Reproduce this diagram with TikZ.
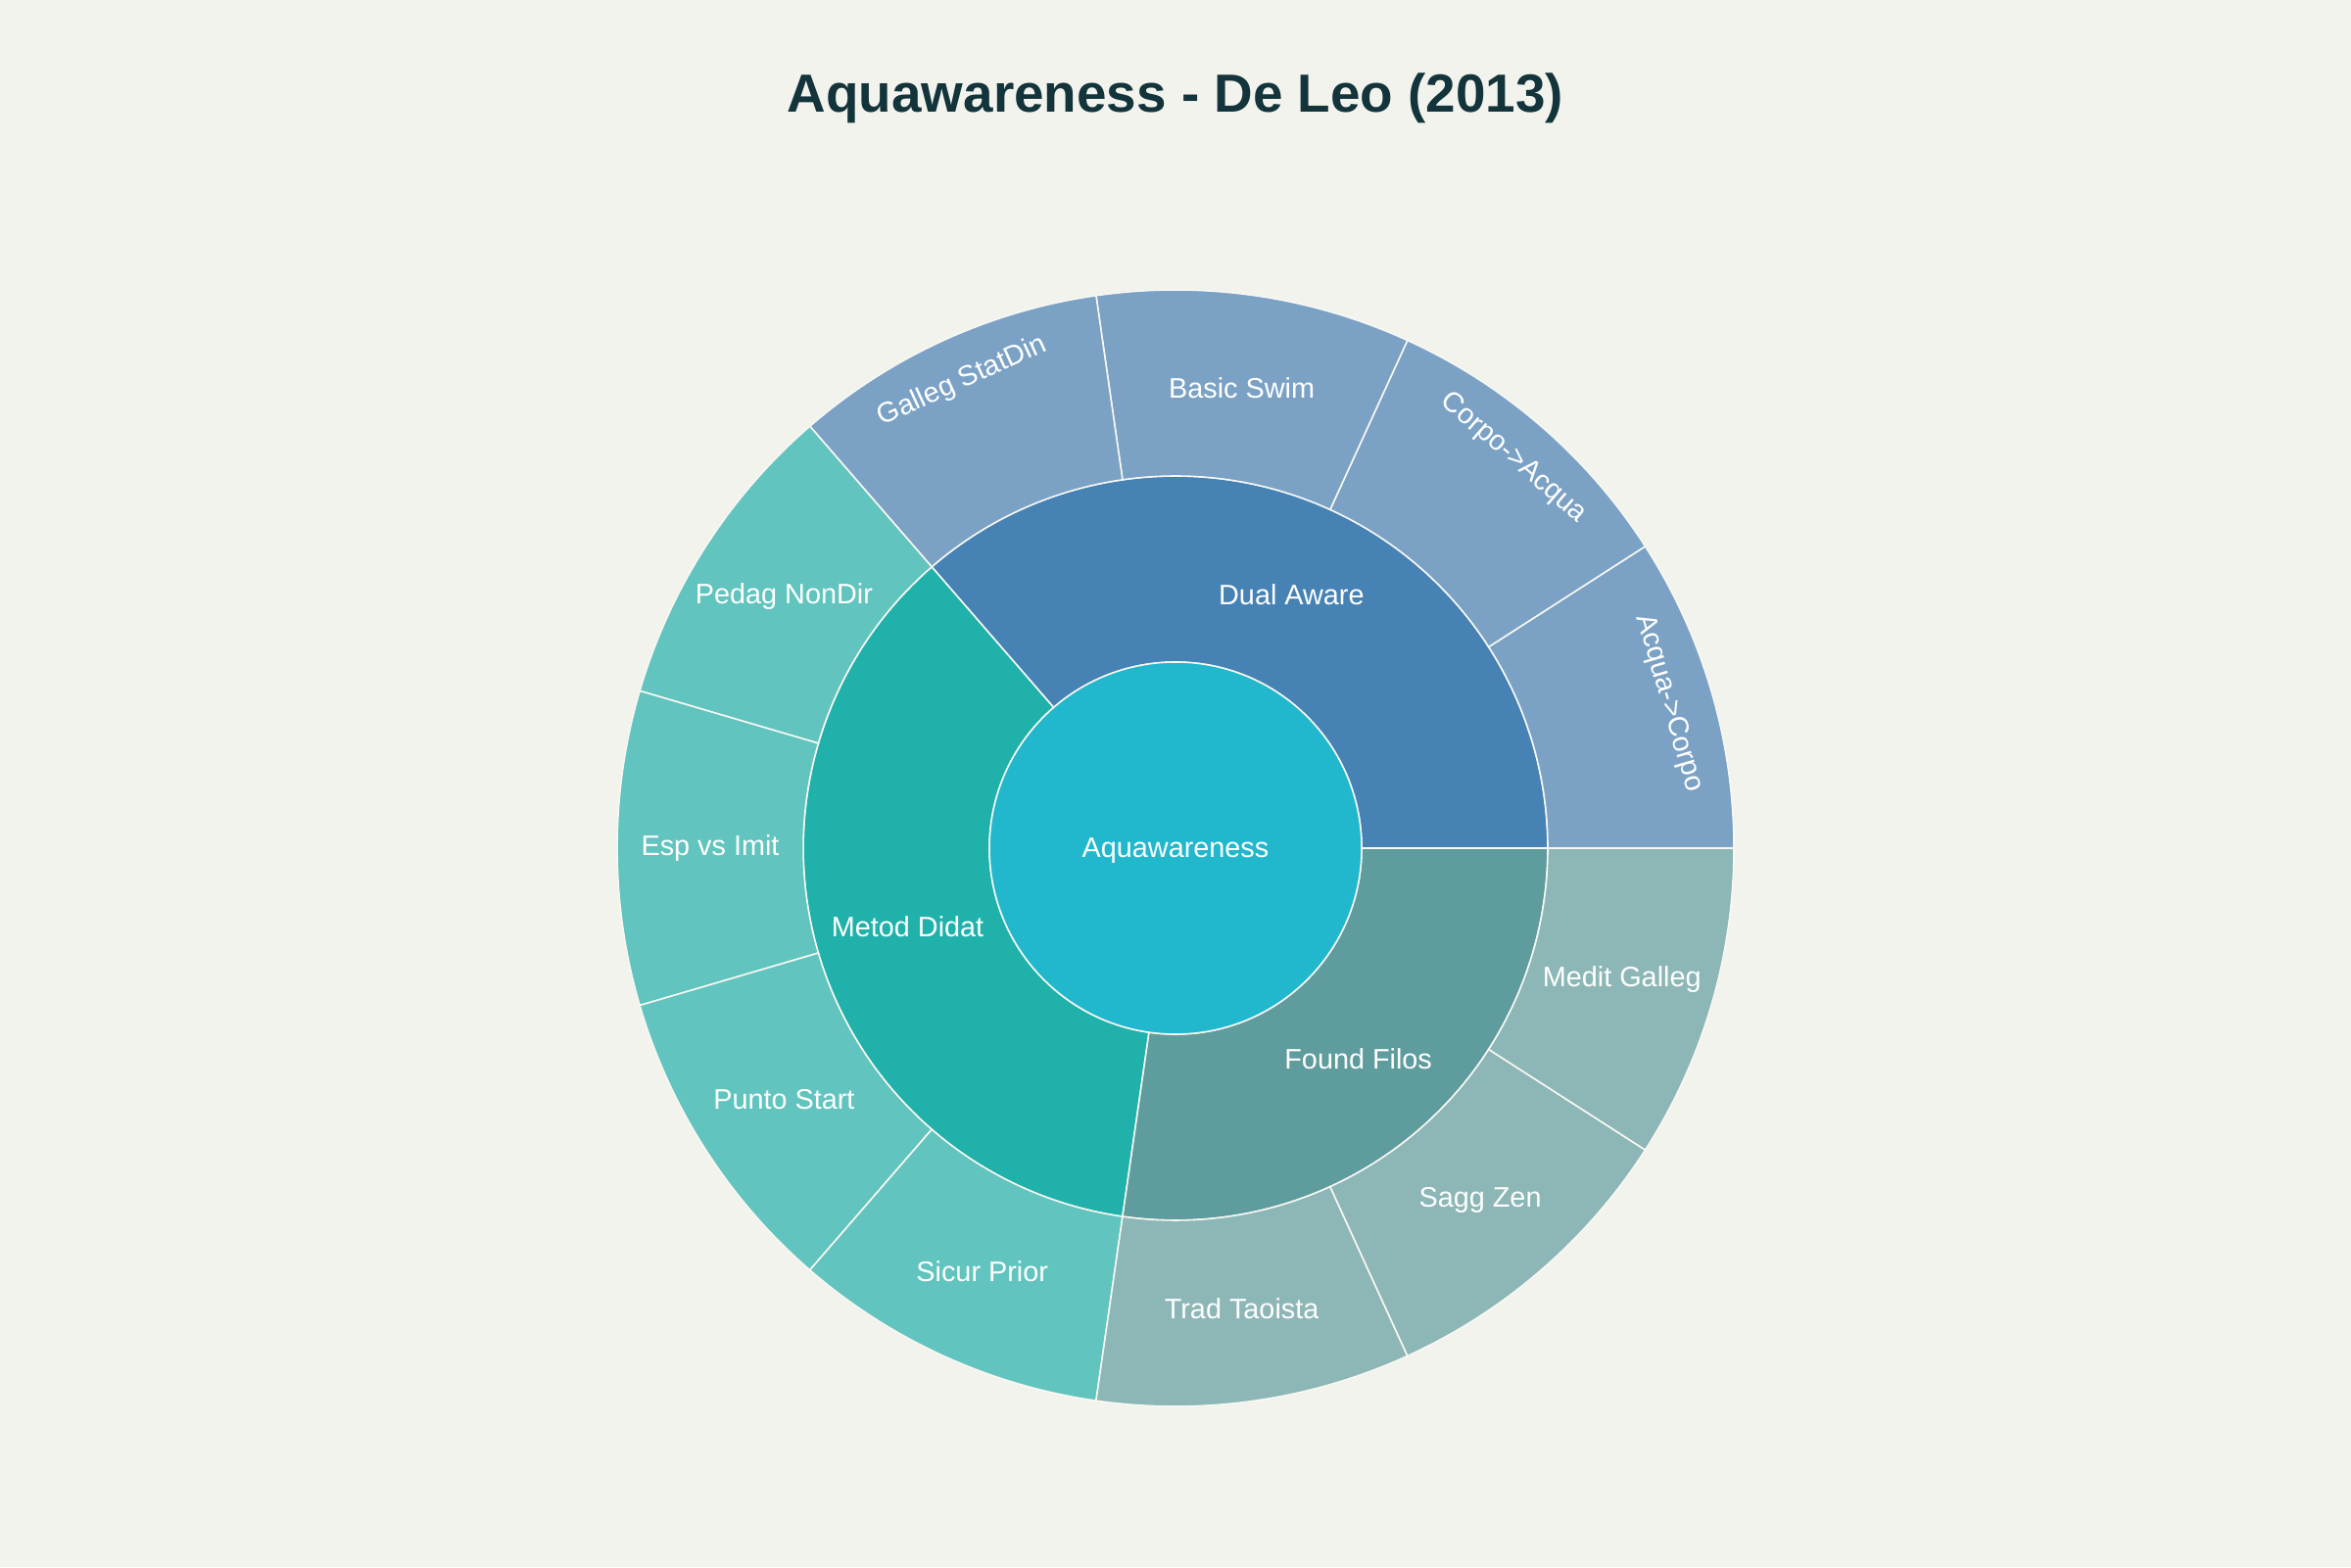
\documentclass[tikz,border=0pt]{standalone}
\usepackage{fontspec}
\setmainfont{Liberation Sans}
\usepackage{tikz}
\definecolor{fondo}{HTML}{F3F3EE}
\definecolor{titulo}{HTML}{13343B}
\definecolor{raizc}{HTML}{21B7CC}
\definecolor{dualc}{HTML}{4682B4}
\definecolor{dualh}{HTML}{7BA2C5}
\definecolor{metodc}{HTML}{20B1AA}
\definecolor{metodh}{HTML}{61C4BE}
\definecolor{foundc}{HTML}{5F9C9D}
\definecolor{foundh}{HTML}{8CB7B6}
\tikzstyle{borde} = [draw=fondo!70!white, line width=0.45pt]
\tikzstyle{etiqueta} = [text=white, font=\fontsize{8.2}{10}\selectfont, inner sep=0pt]
\tikzstyle{fancytitle} = [text=titulo, font=\fontsize{15.6}{19}\selectfont\bfseries]
% porcion: estilo, angulo inicial, angulo final, radio interior, radio exterior
\newcommand{\porcion}[5]{\filldraw[borde, #1] (#2:#4) arc[start angle=#2, end angle=#3, radius=#4] -- (#3:#5) arc[start angle=#3, end angle=#2, radius=#5] -- cycle;}
\begin{document}
\begin{tikzpicture}
		\fill[fondo] (0,0) rectangle (24,16);
		\useasboundingbox (0,0) rectangle (24,16);
		\node[fancytitle] (titulo) at (12,15) {Aquawareness - De Leo (2013)};
		\begin{scope}[shift={(12,7.34)}]
			% anillo interior
			\porcion{fill=dualc}{0}{130.909}{1.9}{3.8}
			\porcion{fill=metodc}{130.909}{261.818}{1.9}{3.8}
			\porcion{fill=foundc}{261.818}{360}{1.9}{3.8}
			% anillo exterior
			\porcion{fill=dualh}{0}{32.727}{3.8}{5.7}
			\porcion{fill=dualh}{32.727}{65.455}{3.8}{5.7}
			\porcion{fill=dualh}{65.455}{98.182}{3.8}{5.7}
			\porcion{fill=dualh}{98.182}{130.909}{3.8}{5.7}
			\porcion{fill=metodh}{130.909}{163.636}{3.8}{5.7}
			\porcion{fill=metodh}{163.636}{196.364}{3.8}{5.7}
			\porcion{fill=metodh}{196.364}{229.091}{3.8}{5.7}
			\porcion{fill=metodh}{229.091}{261.818}{3.8}{5.7}
			\porcion{fill=foundh}{261.818}{294.545}{3.8}{5.7}
			\porcion{fill=foundh}{294.545}{327.273}{3.8}{5.7}
			\porcion{fill=foundh}{327.273}{360}{3.8}{5.7}
			\filldraw[borde, fill=raizc] (0,0) circle (1.9);
			% textos
			\node[etiqueta] (raiz) at (0,-0.03) {Aquawareness};
			\node[etiqueta] (dual) at (65.455:2.85) {Dual Aware};
			\node[etiqueta] (metod) at (196.364:2.85) {Metod Didat};
			\node[etiqueta] (found) at (310.909:2.85) {Found Filos};
			\node[etiqueta, rotate=-73.64] (acquacorpo) at (16.364:5.25) {Acqua->Corpo};
			\node[etiqueta, rotate=-40.91] (corpoacqua) at (49.091:5.27) {Corpo->Acqua};
			\node[etiqueta] (basic) at (81.818:4.75) {Basic Swim};
			\node[etiqueta, rotate=24.55] (galleg) at (114.545:5.24) {Galleg StatDin};
			\node[etiqueta] (pedag) at (147.273:4.75) {Pedag NonDir};
			\node[etiqueta] (esp) at (180:4.75) {Esp vs Imit};
			\node[etiqueta] (punto) at (212.727:4.75) {Punto Start};
			\node[etiqueta] (sicur) at (245.455:4.75) {Sicur Prior};
			\node[etiqueta] (trad) at (278.182:4.75) {Trad Taoista};
			\node[etiqueta] (sagg) at (310.909:4.75) {Sagg Zen};
			\node[etiqueta] (medit) at (343.636:4.75) {Medit Galleg};
		\end{scope}
	\end{tikzpicture}
\end{document}
